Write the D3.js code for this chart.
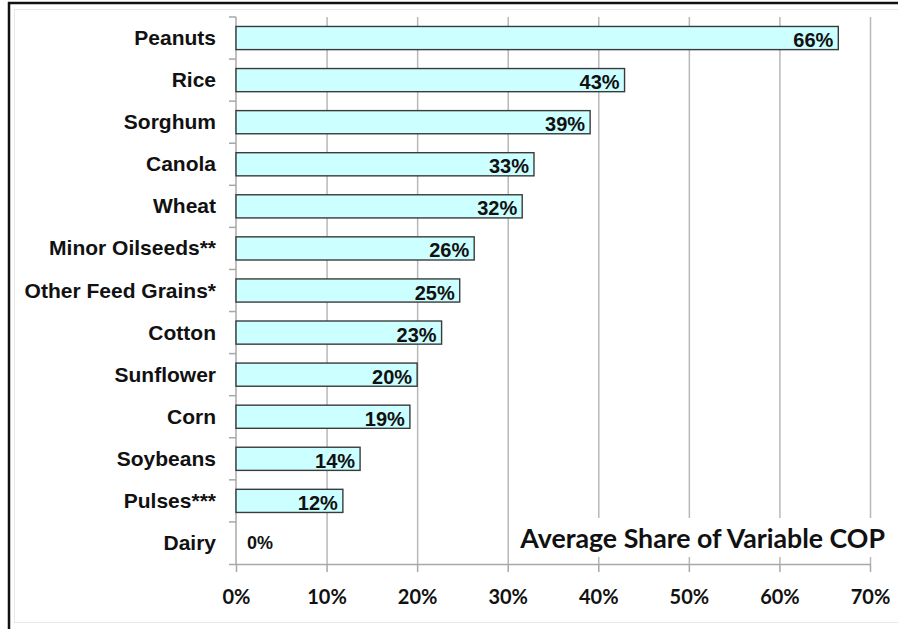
<!DOCTYPE html>
<html>
<head>
<meta charset="utf-8">
<script src="https://cdn.jsdelivr.net/npm/d3@7"></script>
<style>
  body { margin: 0; background: #fff; }
  svg { display: block; }
</style>
</head>
<body>
<div id="vis"></div>
<script>
// chart data
var crops = ["Peanuts", "Rice", "Sorghum", "Canola", "Wheat", "Minor Oilseeds**",
             "Other Feed Grains*", "Cotton", "Sunflower", "Corn", "Soybeans", "Pulses***", "Dairy"];
var shares = [66.5, 42.9, 39.1, 32.9, 31.6, 26.3, 24.7, 22.7, 20.0, 19.2, 13.7, 11.8, 0];
var shareLabels = ["66%", "43%", "39%", "33%", "32%", "26%", "25%", "23%", "20%", "19%", "14%", "12%", "0%"];
var xTicks = [0, 10, 20, 30, 40, 50, 60, 70];
var chartTitle = "Average Share of Variable COP";

var W = 898, H = 629;
var margin = {top: 17, left: 236, right: 28, bottom: 65};
var plotW = W - margin.left - margin.right,
    plotH = H - margin.top - margin.bottom;

var svg = d3.select("#vis").append("svg")
    .attr("width", W)
    .attr("height", H);

// frame: thick black outer border + faint inner one
svg.append("rect")
    .attr("x", 9).attr("y", 3)
    .attr("width", W + 20).attr("height", H + 20)
    .attr("fill", "none").attr("stroke", "#111").attr("stroke-width", 2.5);
svg.append("rect")
    .attr("x", 14.5).attr("y", 9.5)
    .attr("width", W + 20).attr("height", 613)
    .attr("fill", "none").attr("stroke", "#e8e8e8").attr("stroke-width", 1);

var g = svg.append("g")
    .attr("transform", "translate(" + margin.left + "," + margin.top + ")");

var x = d3.scaleLinear().domain([0, 70]).range([0, plotW]);
var y = d3.scaleBand().domain(crops).range([0, plotH])
    .paddingInner(0.45).paddingOuter(0.225);

// vertical gridlines
g.append("g")
    .attr("class", "grid")
    .call(d3.axisBottom(x).tickValues(xTicks.slice(1)).tickSize(plotH).tickFormat(""))
    .call(function(s) { s.select(".domain").remove(); })
    .selectAll("line")
    .attr("stroke", "#b8b8b8").attr("stroke-width", 1.5);

// title box interrupts the gridlines
var titleG = g.append("g");
var titleBg = titleG.append("rect").attr("fill", "#fff");
var title = titleG.append("text")
    .attr("x", 649).attr("y", 531)
    .attr("text-anchor", "end")
    .style("font-family", "Lato, 'Open Sans', sans-serif")
    .style("font-weight", "bold")
    .style("font-size", "25px")
    .attr("fill", "#111")
    .text(chartTitle);
// fit the width seen in the picture
var tw = title.node().getComputedTextLength();
title.style("font-size", (25 * 365 / tw) + "px");
titleBg.attr("x", 279).attr("y", 501).attr("width", 380).attr("height", 39);

// x axis
var xAxis = g.append("g")
    .attr("transform", "translate(0," + plotH + ")")
    .call(d3.axisBottom(x).tickValues(xTicks).tickSize(8).tickSizeOuter(0)
          .tickFormat(function(d) { return d + "%"; }));
xAxis.select(".domain").attr("stroke", "#a8a8a8").attr("stroke-width", 1.5)
    .attr("d", "M-7,0.5H" + plotW);
xAxis.selectAll(".tick line").attr("stroke", "#a8a8a8").attr("stroke-width", 1.5);
xAxis.selectAll(".tick text")
    .attr("y", 40).attr("dy", 0)
    .style("font-family", "Lato, 'Open Sans', sans-serif")
    .style("font-weight", "bold")
    .style("font-size", "20px")
    .attr("fill", "#111");

// y axis line and ticks at the category boundaries
g.append("line")
    .attr("x1", 0).attr("x2", 0).attr("y1", 0).attr("y2", plotH)
    .attr("stroke", "#a8a8a8").attr("stroke-width", 1.5);
g.selectAll(".ytick")
    .data(d3.range(crops.length))
    .enter().append("line")
    .attr("class", "ytick")
    .attr("x1", -7).attr("x2", 0)
    .attr("y1", function(i) { return y.range()[0] + i * y.step(); })
    .attr("y2", function(i) { return y.range()[0] + i * y.step(); })
    .attr("stroke", "#a8a8a8").attr("stroke-width", 1.5);

// category labels
g.selectAll(".cat")
    .data(crops)
    .enter().append("text")
    .attr("class", "cat")
    .attr("x", -20)
    .attr("y", function(d) { return y(d) + y.bandwidth() / 2 + 7; })
    .attr("text-anchor", "end")
    .style("font-family", "'Liberation Sans', Arial, sans-serif")
    .style("font-weight", "bold")
    .style("font-size", "21px")
    .attr("fill", "#111")
    .text(function(d) { return d; });

// bars
var rows = crops.map(function(c, i) { return {crop: c, value: shares[i], label: shareLabels[i]}; });

g.selectAll(".bar")
    .data(rows.filter(function(d) { return d.value > 0; }))
    .enter().append("rect")
    .attr("class", "bar")
    .attr("x", x(0))
    .attr("y", function(d) { return y(d.crop); })
    .attr("width", function(d) { return x(d.value) - x(0); })
    .attr("height", y.bandwidth())
    .attr("fill", "#ccffff")
    .attr("stroke", "#3a3a3a")
    .attr("stroke-width", 1.4);

// value labels
g.selectAll(".val")
    .data(rows)
    .enter().append("text")
    .attr("class", "val")
    .attr("x", function(d) { return d.value > 0 ? x(d.value) - 5 : x(0) + 11; })
    .attr("y", function(d) { return d.value > 0 ? y(d.crop) + y.bandwidth() - 2.5 : y(d.crop) + y.bandwidth() / 2 + 6; })
    .attr("text-anchor", function(d) { return d.value > 0 ? "end" : "start"; })
    .style("font-family", "'Liberation Sans', Arial, sans-serif")
    .style("font-weight", "bold")
    .style("font-size", function(d) { return d.value > 0 ? "20px" : "18px"; })
    .attr("fill", "#111")
    .text(function(d) { return d.label; });
</script>
</body>
</html>
